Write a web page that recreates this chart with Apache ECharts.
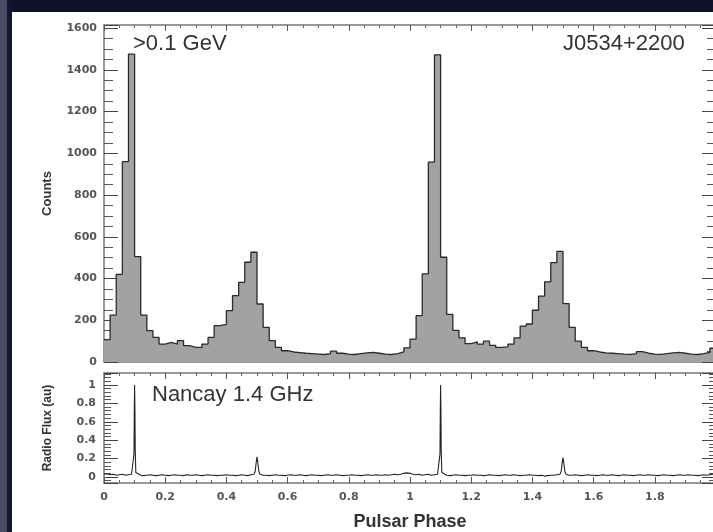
<!DOCTYPE html>
<html>
<head>
<meta charset="utf-8">
<script src="https://cdn.jsdelivr.net/npm/echarts@6/dist/echarts.min.js"></script>
<style>
html,body{margin:0;padding:0;background:#fff;}
#chart{width:713px;height:532px;}
</style>
</head>
<body>
<div id="chart"></div>
<script>
// ---- Gamma-ray light curve (>0.1 GeV), 0.02-phase bins, two rotations shown ----
const binWidth = 0.02;
const countsCycle1 = [
  107, 225, 420, 960, 1475, 505, 225, 150, 118, 86,
  94, 86, 102, 78, 70, 70, 86, 118, 174, 180,
  246, 318, 382, 478, 526, 278, 166, 102, 70, 54,
  48, 45, 42, 40, 38, 36, 40, 52, 42, 38,
  36, 40, 44, 46, 42, 38, 36, 40, 48, 68
];
const countsCycle2 = [
  110, 222, 422, 958, 1472, 502, 228, 152, 116, 88,
  96, 86, 100, 80, 70, 72, 86, 116, 172, 182,
  248, 316, 384, 476, 530, 280, 166, 100, 70, 54,
  48, 44, 42, 40, 38, 37, 40, 50, 42, 38,
  37, 40, 44, 46, 42, 38, 36, 40, 46, 66
];
const countsTicks = [0, 200, 400, 600, 800, 1000, 1200, 1400, 1600];

// ---- Radio profile (Nancay 1.4 GHz) ----
const radioStep = 0.01;
const radioFluxGrid = [
  0.03,0.035,0.025,0.03,0.02,0.025,0.03,0.02,0.025,0.03,
  1.00,0.03,0.02,0.015,0.02,0.025,0.02,0.015,0.02,0.025,
  0.02,0.015,0.02,0.025,0.02,0.02,0.015,0.025,0.02,0.02,
  0.025,0.02,0.015,0.02,0.025,0.02,0.02,0.015,0.02,0.02,
  0.025,0.02,0.02,0.015,0.02,0.025,0.02,0.015,0.025,0.03,
  0.22,0.03,0.02,0.02,0.015,0.02,0.025,0.02,0.02,0.015,
  0.02,0.025,0.02,0.02,0.025,0.02,0.015,0.02,0.025,0.02,
  0.02,0.015,0.02,0.025,0.02,0.02,0.025,0.02,0.015,0.02,
  0.02,0.025,0.02,0.02,0.015,0.02,0.025,0.02,0.02,0.025,
  0.02,0.02,0.025,0.02,0.025,0.03,0.025,0.03,0.04,0.045,
  0.04,0.03,0.025,0.03,0.02,0.025,0.03,0.02,0.025,0.03,
  1.00,0.03,0.02,0.015,0.02,0.025,0.02,0.02,0.015,0.02,
  0.02,0.025,0.02,0.02,0.015,0.02,0.025,0.02,0.02,0.015,
  0.02,0.025,0.02,0.02,0.025,0.02,0.015,0.02,0.02,0.025,
  0.02,0.02,0.015,0.02,0.01,0.015,0.02,0.02,0.025,0.03,
  0.21,0.03,0.02,0.02,0.025,0.02,0.015,0.02,0.025,0.02,
  0.02,0.015,0.02,0.025,0.02,0.02,0.025,0.02,0.015,0.02,
  0.025,0.02,0.02,0.015,0.02,0.025,0.02,0.02,0.025,0.02,
  0.02,0.015,0.02,0.025,0.02,0.02,0.015,0.02,0.025,0.02,
  0.02,0.025,0.02,0.02,0.015,0.02,0.025,0.02,0.025,0.03,
  0.035
];
const radioPeakPhase = [0.096,0.098,0.099,0.101,0.102,0.104, 0.494,0.497,0.503,0.506,
                        1.096,1.098,1.099,1.101,1.102,1.104, 1.494,1.497,1.503,1.506];
const radioPeakFlux  = [0.04,0.25,0.70,0.75,0.30,0.05, 0.06,0.15,0.15,0.06,
                        0.04,0.25,0.70,0.75,0.30,0.05, 0.06,0.15,0.14,0.06];
const phaseTicks = [0, 0.2, 0.4, 0.6, 0.8, 1, 1.2, 1.4, 1.6, 1.8, 2];

// ---- build series data ----
const counts = countsCycle1.concat(countsCycle2);
const histData = counts.map((v, i) => [+(i * binWidth).toFixed(3), v]);
histData.push([+(counts.length * binWidth).toFixed(3), counts[counts.length - 1]]);

const radioData = radioFluxGrid.map((v, i) => [+(i * radioStep).toFixed(3), v]);
radioPeakPhase.forEach((p, i) => radioData.push([p, radioPeakFlux[i]]));
radioData.sort((a, b) => a[0] - b[0]);

const frameColor = '#777';
const tickFont = {fontFamily: 'DejaVu Sans', fontWeight: 'bold', fontSize: 11, color: '#555'};

function xAx(gridIndex, position, showLabels) {
  return {
    type: 'value', gridIndex, position, min: 0, max: 2, interval: 0.2,
    axisLine: {show: true, onZero: false, lineStyle: {color: frameColor, width: 1.5}},
    axisTick: {show: true, inside: true, length: 6, lineStyle: {color: '#555', width: 1}},
    minorTick: {show: true, splitNumber: 4, length: 3, lineStyle: {color: '#666', width: 1}},
    axisLabel: Object.assign({show: showLabels, margin: 9,
      formatter: v => phaseTicks.indexOf(v) >= 0 ? String(v) : ''}, tickFont),
    splitLine: {show: false}, minorSplitLine: {show: false}
  };
}

const chart = echarts.init(document.getElementById('chart'), null, {renderer: 'canvas'});
chart.setOption({
  animation: false,
  backgroundColor: '#ffffff',
  grid: [
    {left: 104, top: 25, width: 612, height: 337, outerBoundsMode: 'none', containLabel: false},
    {left: 104, top: 373, width: 612, height: 110, outerBoundsMode: 'none', containLabel: false}
  ],
  xAxis: [
    xAx(0, 'bottom', false),
    xAx(0, 'top', false),
    Object.assign(xAx(1, 'bottom', true), {
      name: 'Pulsar Phase', nameLocation: 'middle', nameGap: 30,
      nameTextStyle: {fontFamily: 'Liberation Sans', fontWeight: 'bold', fontSize: 18, color: '#333'}
    }),
    xAx(1, 'top', false)
  ],
  yAxis: [
    {
      type: 'value', gridIndex: 0, position: 'left', min: 0, max: 1615, interval: 200,
      name: 'Counts', nameLocation: 'middle', nameGap: 50, nameRotate: 90,
      nameTextStyle: {fontFamily: 'Liberation Sans', fontWeight: 'bold', fontSize: 13, color: '#333'},
      axisLine: {show: true, onZero: false, lineStyle: {color: frameColor, width: 1.5}},
      axisTick: {show: true, inside: true, length: 14, lineStyle: {color: '#444'}},
      minorTick: {show: true, splitNumber: 4, length: 9, lineStyle: {color: '#555'}},
      axisLabel: Object.assign({margin: 7, showMaxLabel: false,
        formatter: v => countsTicks.indexOf(v) >= 0 ? String(v) : ''}, tickFont),
      splitLine: {show: false}
    },
    {
      type: 'value', gridIndex: 0, position: 'right', min: 0, max: 1615, interval: 200,
      axisLine: {show: true, onZero: false, lineStyle: {color: frameColor, width: 1.5}},
      axisTick: {show: true, inside: true, length: 14, lineStyle: {color: '#444'}},
      minorTick: {show: true, splitNumber: 4, length: 9, lineStyle: {color: '#555'}},
      axisLabel: {show: false}, splitLine: {show: false}
    },
    {
      type: 'value', gridIndex: 1, position: 'left', min: -0.065, max: 1.13,
      splitNumber: 6, minInterval: 0.2, maxInterval: 0.2,
      name: 'Radio Flux (au)', nameLocation: 'middle', nameGap: 50, nameRotate: 90,
      nameTextStyle: {fontFamily: 'Liberation Sans', fontWeight: 'bold', fontSize: 12, color: '#333'},
      axisLine: {show: true, onZero: false, lineStyle: {color: frameColor, width: 1.5}},
      axisTick: {show: true, inside: true, length: 14, lineStyle: {color: '#444'}},
      minorTick: {show: true, splitNumber: 5, length: 7, lineStyle: {color: '#555'}},
      axisLabel: Object.assign({margin: 8, showMinLabel: false, showMaxLabel: false}, tickFont),
      splitLine: {show: false}
    },
    {
      type: 'value', gridIndex: 1, position: 'right', min: -0.065, max: 1.13,
      splitNumber: 6, minInterval: 0.2, maxInterval: 0.2,
      axisLine: {show: true, onZero: false, lineStyle: {color: frameColor, width: 1.5}},
      axisTick: {show: true, inside: true, length: 14, lineStyle: {color: '#444'}},
      minorTick: {show: true, splitNumber: 5, length: 7, lineStyle: {color: '#555'}},
      axisLabel: {show: false}, splitLine: {show: false}
    }
  ],
  series: [
    {
      name: 'counts', type: 'line', xAxisIndex: 0, yAxisIndex: 0,
      step: 'end', symbol: 'none', data: histData,
      lineStyle: {color: '#2a2a2a', width: 1.3},
      areaStyle: {color: '#a2a2a2', opacity: 1, origin: 'start'},
      z: 1
    },
    {
      name: 'radio', type: 'line', xAxisIndex: 2, yAxisIndex: 2,
      symbol: 'none', data: radioData,
      lineStyle: {color: '#222', width: 1.1}
    }
  ],
  graphic: [
    {type: 'rect', shape: {x: 0, y: 0, width: 713, height: 12}, style: {fill: '#10112a'}, silent: true},
    {type: 'rect', shape: {x: 0, y: 0, width: 7, height: 532}, style: {fill: '#4a4c63'}, silent: true},
    {type: 'rect', shape: {x: 7, y: 0, width: 5, height: 532}, style: {fill: '#14152e'}, silent: true},
    {type: 'text', style: {text: '>0.1 GeV', x: 133, y: 44, font: '22px "Liberation Sans"', fill: '#333',
      align: 'left', verticalAlign: 'middle'}, z: 10},
    {type: 'text', style: {text: 'J0534+2200', x: 563, y: 44, font: '22px "Liberation Sans"', fill: '#333',
      align: 'left', verticalAlign: 'middle'}, z: 10},
    {type: 'text', style: {text: 'Nancay 1.4 GHz', x: 152, y: 395, font: '22px "Liberation Sans"', fill: '#333',
      align: 'left', verticalAlign: 'middle'}, z: 10}
  ]
});
</script>
</body>
</html>
